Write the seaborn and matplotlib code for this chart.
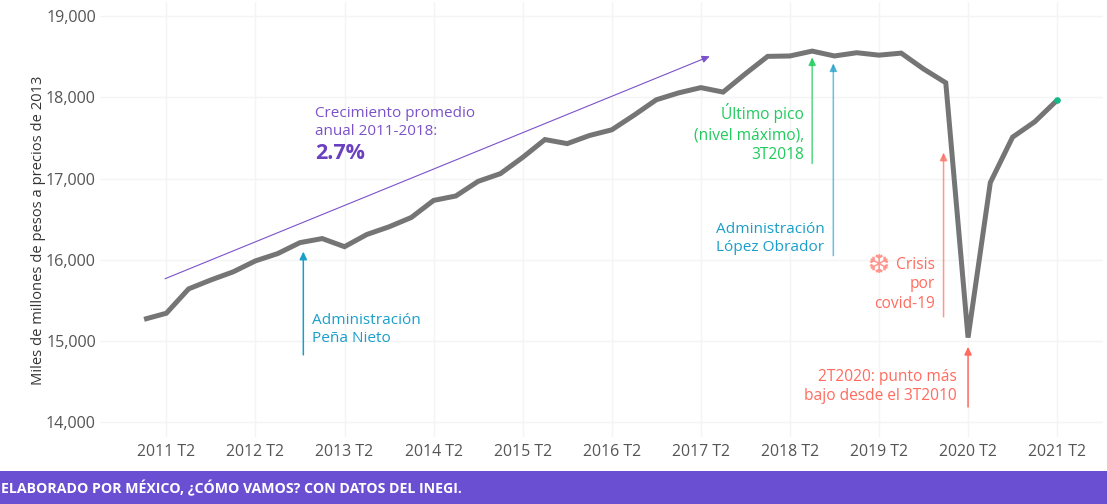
import pandas as pd
import numpy as np
import seaborn as sns
import matplotlib.pyplot as plt
from matplotlib.patches import Rectangle

# valores (2011 T1 a 2021 T2)
pib = [15265, 15340, 15640, 15750, 15850, 15985, 16075, 16210, 16260, 16160,
       16310, 16405, 16520, 16730, 16785, 16965, 17060, 17260, 17480, 17430,
       17530, 17600, 17780, 17970, 18055, 18120, 18065, 18290, 18505, 18510,
       18570, 18510, 18550, 18520, 18545, 18350, 18180, 15040, 16950, 17510,
       17700, 17965]
trimestres = [f"{a} T{t}" for a in range(2011, 2022) for t in range(1, 5)][:42]
y_ticks = [14000, 15000, 16000, 17000, 18000, 19000]

GRIS = "#757575"
MORADO = "#7B52C9"
MORADO_F = "#6A3FC0"
VERDE = "#1FCB5C"
AZUL = "#1A9FCB"
ROJO = "#FF6B5E"

sns.set_theme(style="whitegrid")
plt.rcParams["font.family"] = ["Open Sans", "DejaVu Sans"]

df = pd.DataFrame({"n": range(len(pib)), "trimestre": trimestres, "pib": pib})

fig = plt.figure(figsize=(11.07, 5.04), dpi=100)
ax = fig.add_axes([100 / 1107, 1 - 437 / 504, 1003 / 1107, 435 / 504])

sns.lineplot(data=df, x="n", y="pib", color=GRIS, linewidth=3.6, ax=ax, zorder=3,
             solid_joinstyle="miter", solid_capstyle="butt")
ax.scatter(df["n"].iloc[-1], df["pib"].iloc[-1], s=14, color="#12B886", zorder=4)

ax.set_xlim(-1.98, 43.06)
ax.set_ylim(13815, 19175)
ax.set_xticks(df["n"][1::4])
ax.set_xticklabels(df["trimestre"][1::4])
ax.set_yticks(y_ticks)
ax.set_yticklabels([f"{v:,}" for v in y_ticks])
ax.grid(color="#F4F4F4", linewidth=1.0)
for s in ax.spines.values():
    s.set_visible(False)
ax.tick_params(axis="y", length=0, labelsize=11.6, labelcolor="#555555", pad=3)
ax.tick_params(axis="x", length=0, labelsize=11.4, labelcolor="#555555", pad=5)
ax.set_xlabel("")
ax.set_ylabel("Miles de millones de pesos a precios de 2013", fontsize=10.6, color="#333333")
ax.yaxis.set_label_coords(-54 / 1003, 0.475)


def flecha(x0, y0, x1, y1, color, alpha=1.0, lw=1.1):
    ax.annotate("", xy=(x1, y1), xytext=(x0, y0), zorder=2,
                arrowprops=dict(arrowstyle="-|>,head_width=0.18,head_length=0.38", color=color,
                                lw=lw, alpha=alpha, shrinkA=0, shrinkB=0))


flecha(0.94, 15765, 25.4, 18506, MORADO, lw=0.8)
flecha(7.15, 14827, 7.15, 16100, AZUL)
flecha(30, 17185, 30, 18494, VERDE, alpha=0.75)
flecha(30.95, 16050, 30.95, 18420, AZUL, alpha=0.65)
flecha(35.9, 15296, 35.9, 17320, ROJO, alpha=0.7)
flecha(37, 14185, 37, 14926, ROJO)

ax.text(7.55, 15142, "Administración\nPeña Nieto", color=AZUL, fontsize=11.1,
        va="center", ha="left", linespacing=1.3)
ax.text(7.68, 17691, "Crecimiento promedio\nanual 2011-2018:", color=MORADO, fontsize=11,
        va="center", ha="left", linespacing=1.3)
ax.text(7.68, 17305, "2.7%", color=MORADO_F, fontsize=15.5, fontweight="bold",
        va="center", ha="left")
ax.text(29.65, 17560, "Último pico\n(nivel máximo),\n3T2018", color=VERDE, fontsize=11.2,
        va="center", ha="right", linespacing=1.3)
ax.text(30.55, 16265, "Administración\nLópez Obrador", color=AZUL, fontsize=11.1,
        va="center", ha="right", linespacing=1.3)
ax.text(35.5, 15930, "Crisis", color=ROJO, fontsize=11.2, va="center", ha="right")
ax.text(35.5, 15575, "por\ncovid-19", color=ROJO, fontsize=11.2,
        va="center", ha="right", linespacing=1.3)
ax.text(32.96, 15926, "\u2746", color=ROJO, fontsize=19, va="center", ha="center",
        family="DejaVu Sans", alpha=0.7)
ax.text(36.5, 14438, "2T2020: punto más\nbajo desde el 3T2010", color=ROJO, fontsize=11.2,
        va="center", ha="right", linespacing=1.3)

# banda inferior
fig.add_artist(Rectangle((0, 0), 1, 33 / 504, transform=fig.transFigure,
                         facecolor="#6B4FD3", edgecolor="none"))
fig.text(1 / 1107, 16 / 504, "ELABORADO POR MÉXICO, ¿CÓMO VAMOS? CON DATOS DEL INEGI.",
         color="white", fontsize=10.2, fontweight="bold", va="center", ha="left")

fig.savefig("out.png", dpi=100)
